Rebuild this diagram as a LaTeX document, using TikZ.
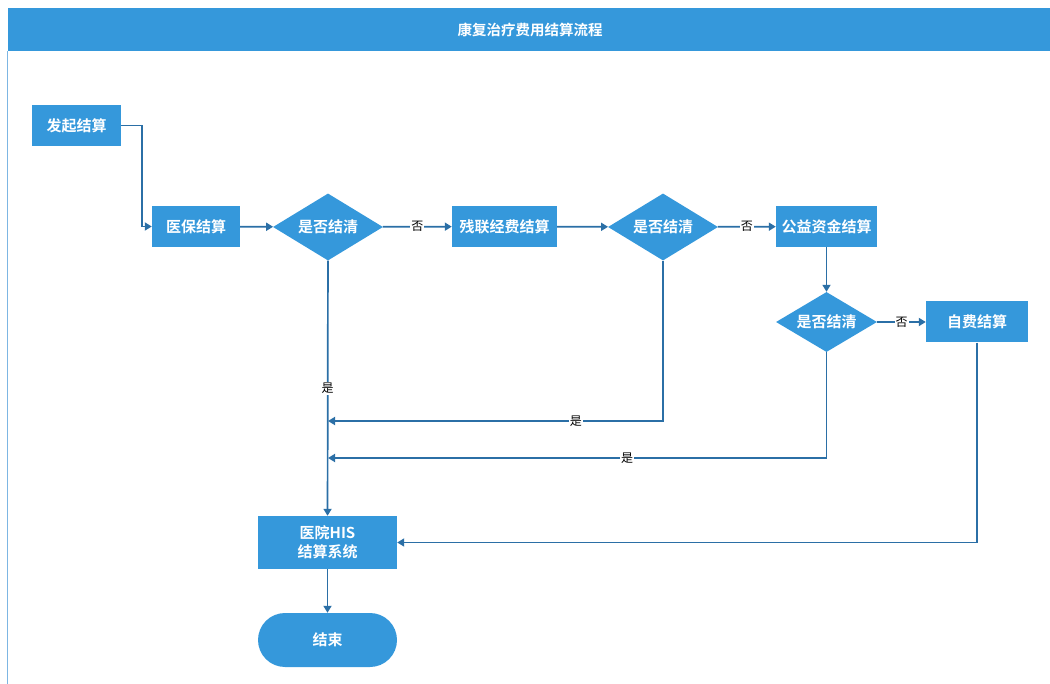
\documentclass[tikz,border=0pt]{standalone}
\usepackage{fontspec}
\setmainfont{Noto Sans CJK SC}[BoldFont={Noto Sans CJK SC Bold}]
\usepackage{xcolor}
\usetikzlibrary{shapes,arrows.meta,positioning,calc}
\definecolor{boxblue}{HTML}{3598DB}
\definecolor{lineblue}{HTML}{2B6FA6}
\definecolor{frameblue}{HTML}{7DB6E3}

\begin{document}
\begin{tikzpicture}[x=1pt,y=-1pt,
    proc/.style={rectangle, fill=boxblue, text=white, inner sep=0pt, align=center,
        font=\bfseries\fontsize{15}{19}\selectfont, minimum height=41pt},
    judge/.style={diamond, aspect=1.64, fill=boxblue, text=white, inner sep=0pt,
        font=\bfseries\fontsize{15}{19}\selectfont, minimum width=110pt, minimum height=67pt},
    flow/.style={draw=lineblue, line width=1.7pt, -{Triangle[length=7pt,width=8pt]}},
    yesno/.style={fill=white, inner sep=1pt, text=black, font=\fontsize{12}{14}\selectfont}]
    \useasboundingbox (0,0) rectangle (1050,684);

    % Frame and title
    \draw [frameblue, line width=0.8pt] (7.5,51) -- (7.5,684);
    \fill [boxblue] (8,8) rectangle (1050,51);
    \node [text=white, font=\bfseries\fontsize{14.5}{17}\selectfont] (title) at (530,29.5) {康复治疗费用结算流程};

    % Steps
    \node [proc, minimum width=89pt] (start) at (76.5,125.5) {发起结算};
    \node [proc, minimum width=88pt] (yb) at (196,226.5) {医保结算};
    \node [judge] (d1) at (328,227) {是否结清};
    \node [proc, minimum width=105pt] (cl) at (504.5,226.5) {残联经费结算};
    \node [judge] (d2) at (663,227) {是否结清};
    \node [proc, minimum width=101pt] (gy) at (826.5,226.5) {公益资金结算};
    \node [judge, minimum width=101pt, minimum height=60pt] (d3) at (826.5,322) {是否结清};
    \node [proc, minimum width=102pt] (zf) at (977,322) {自费结算};
    \node [proc, minimum width=139pt, minimum height=53pt] (his) at (327.5,542.5) {医院HIS\\结算系统};
    \node [proc, rounded corners=27pt, minimum width=139pt, minimum height=54pt] (end) at (327.5,640) {结束};

    % Joins on the main line
    \coordinate (m2) at (328,421);
    \coordinate (m3) at (328,458);

    % Connectors
    \draw [flow] (start.east) -- ++(21,0) |- (yb.west);
    \draw [flow] (yb) -- (d1);
    \draw [flow] (d1) -- node[yesno] {否} (cl);
    \draw [flow] (cl) -- (d2);
    \draw [flow] (d2) -- node[yesno] {否} (gy);
    \draw [flow] (gy) -- (d3);
    \draw [flow] (d3) -- node[yesno] {否} (zf);
    \draw [flow] (d1) -- node[yesno] {是} (his);
    \draw [flow] (d2.south) |- node[yesno, pos=0.63] {是} (m2);
    \draw [flow] (d3.south) |- node[yesno, pos=0.70] {是} (m3);
    \draw [flow] (zf.south) |- (his.east);
    \draw [flow] (his) -- (end);
\end{tikzpicture}
\end{document}
